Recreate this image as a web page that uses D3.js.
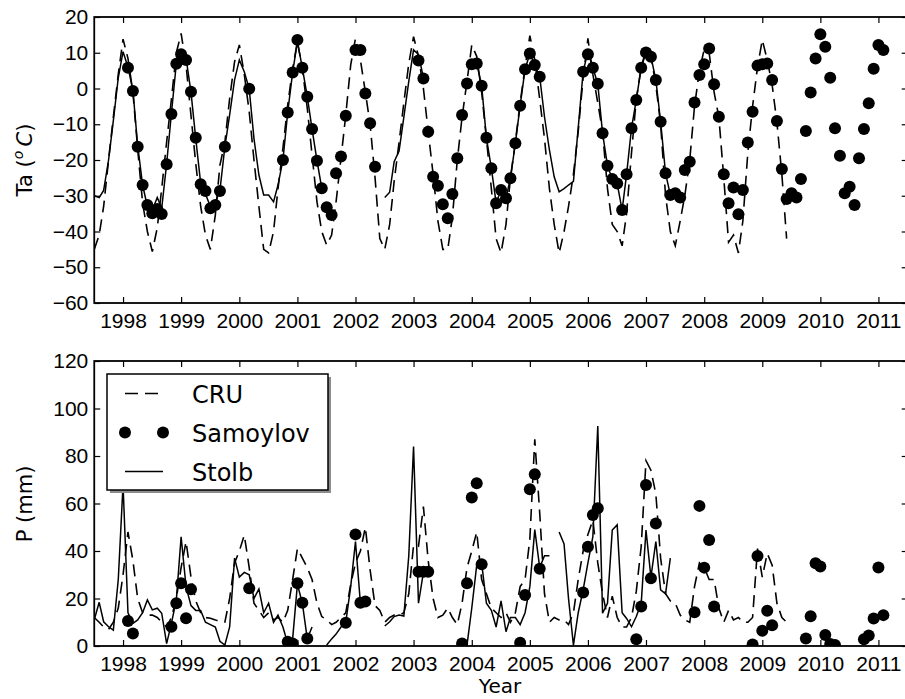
<!DOCTYPE html>
<html>
<head>
<meta charset="utf-8">
<script src="https://cdn.jsdelivr.net/npm/d3@7"></script>
<style>
  body { margin: 0; background: #fff; }
  svg { display: block; font-family: 'DejaVu Sans', sans-serif; }
  .axis text { font-size: 21px; fill: #000; }
  .axis line { stroke: #000; stroke-width: 1.2; }
</style>
</head>
<body>
<div id="chart"></div>
<script>
// monthly values, one row per year starting Jan 1998, null = no data
const years = d3.range(1998, 2012);
const taTicks = [-60, -50, -40, -30, -20, -10, 0, 10, 20];
const pTicks = [0, 20, 40, 60, 80, 100, 120];
const seriesNames = ['CRU', 'Samoylov', 'Stolb'];
const _ = null;

// air temperature (deg C)
const cruTa = [
  [-45, -41, -33, -20, -8, 4, 13.8, 8.4, -1, -17, -32, -40],
  [-45.6, -39, -28, -15, -3, 10, 15.4, 6.6, -7.5, -21, -33, -41],
  [-45, -35.4, -21.4, -15, -2.8, 7.5, 12.2, 4, -6.5, -20, -33, -45],
  [-46, -40, -28, -16.7, -4.6, 5.6, 13.1, 5.6, -5.5, -18.6, -31.7, -40],
  [-43.8, -41, -31.7, -19.5, -7.4, 6.6, 14, 8, -1, -10, -25, -42],
  [-45, -38, -26, -15, -4, 7, 14.5, 9, 0, -12, -24, -37],
  [-45, -45, -36, -20, -8, 2, 12.2, 9, -1, -14, -28, -42],
  [-46, -38, -25, -15, -4, 6, 14.8, 8, -3, -14, -28, -38],
  [-46, -40, -33, -24, -12, 3, 14, 4, -4, -12, -28, -38],
  [-40, -44, -35, -18, -3, 6, 10.8, 9, 1, -10, -30, -40],
  [-44, -37, -30, -20, -5, 5, 11, 10, -1, -8, -25, -43],
  [-41, -46, -37, -18, -5, 6, 13.6, 8, 1, -9.5, -24, -42]
];
const samTa = [
  [_, _, _, _, _, _, _, 5.8, -0.7, -16.3, -27, -32.6],
  [-34.9, -33.7, -35.1, -21.2, -7.1, 6.9, 9.6, 8, -0.9, -13.8, -26.8, -28.7],
  [-33.5, -32.6, -28.7, -16.3, _, _, _, _, -0.1, _, _, _],
  [_, _, _, -20, -6.7, 4.5, 13.6, 5.8, -2.3, -11.3, -20.2, -27.9],
  [-33.2, -35.4, -23.7, -19, -7.6, _, 10.8, 10.8, -1.4, -9.7, -21.9, _],
  [_, _, _, _, _, _, _, 7.8, 2.8, -12.1, -24.7, -27.2],
  [-32.4, -36.3, -29.5, -19.5, -7.4, 1.4, 6.8, 7, 0.8, -13.8, -22.3, -32.1],
  [-28.4, -30.7, -25.1, -15.3, -4.8, 5.4, 9.8, 6.6, 3.3, _, _, _],
  [_, _, _, _, _, 4.7, 9.6, 5.8, 1.3, -12.5, -21.6, -25.3],
  [-26.6, -34, -24, -11.1, -3.2, 5.8, 10.1, 8.9, 2.4, -9.3, -23.7, -29.8],
  [-29.3, -30.5, -22.8, -20.5, -3.9, 3.8, 6.8, 11.2, 1.2, -7.9, -24, -32.1],
  [-27.7, -35.2, -28.4, -15.1, -6.5, 6.4, 6.8, 7, 2.4, -9.1, -22.5, -30.9],
  [-29.3, -30.5, -25.3, -11.9, -1.1, 8.4, 15.2, 11.7, 3, -11.1, -18.8, -29.3],
  [-27.5, -32.6, -19.5, -11.3, -4.1, 5.5, 12.2, 10.8, _, _, _, _]
];
const stolbTa = [
  [-30, -30.5, -28.5, -20, -9, 3, 10.3, 6, -0.5, -16, -27, -33],
  [-34, -30.5, -33.5, -21, -7, 7, 10.5, 8.5, -1, -14, -26.5, -29.5],
  [-33, -32, -28.5, -16.3, -7.4, 2.4, 8, 4.7, -0.1, -14, -24.2, -29.8],
  [-29.8, -31.7, -27, -20, -6.7, 4.5, 13.1, 5.8, -2.3, -11.3, -20.2, -27.9],
  [_, _, _, _, _, _, _, _, _, _, _, _],
  [-30.5, -29, -20.5, -17.5, -8, 2, 10.8, 9.5, 3, _, _, _],
  [_, _, _, _, _, _, 6.8, 7, 0.8, -13.8, -22.3, -32],
  [-28.4, -30.7, -25.1, -15.3, -4.8, 5.4, 9.8, 6.6, 3.3, -7.9, -17.2, -24.7],
  [-28.9, -28, -27, -26, -11, 4.7, 10.3, 5.8, 1.3, -12.5, -21.6, -25.3],
  [-26.6, -34, -24, -11.1, -3.2, 5.8, 10.1, 8.9, 2.4, -9.3, -23.7, -29.8],
  [-29.3, -30.5, _, _, _, _, _, _, _, _, _, _]
];

// precipitation (mm)
const cruP = [
  [12, 10, 8, 7, 10, 16, 30, 48, 36, 20, 14, 13],
  [13, 12, 10, 8, 12, 20, 33, 44, 29, 19, 14, 12],
  [11.7, 11, 10.2, 10, 20, 35, 40, 46.7, 33, 18, 15, 12],
  [14, 11, 12, 10, 15, 28, 41, 37, 33, 28, 18, 12.4],
  [11, 9, 10, 12, 14, 26, 35, 40, 50, 32, 17, 15],
  [10, 12, 13, 13, 14, 22, 42.5, 42, 58.7, 36, 20, 12],
  [13, 16, 12, 9, 18, 33, 40, 48, 28, 22, 16, 14],
  [12, 14, 10, 14, 25, 28, 45, 87, 56, 22, 10, 12],
  [11, 11, 9, 14, 28, 40, 47, 53, 35, 22, 12, 21],
  [12, 8, 8, 12, 23, 42, 78, 74, 64, 37, 22, 19],
  [18, 13, 11, 10, 25, 35, 33, 28, 28, 16, 10, 15],
  [11, 12, 10, 10, 12, 41, 29, 39, 34, 18, 12, 10]
];
const samP = [
  [_, _, _, _, _, _, _, 10.5, 5.3, _, _, _],
  [_, _, _, _, 8.1, 18, 26.4, 11.7, 23.9, _, _, _],
  [_, _, _, _, _, _, _, _, 24.3, _, _, _],
  [_, _, _, _, 1.8, 1.1, 26.4, 18.2, 3.2, _, _, _],
  [_, _, _, _, 9.8, _, 47, 18.2, 18.7, _, _, _],
  [_, _, _, _, _, _, _, 31.3, 31.3, 31.3, _, _],
  [_, _, _, _, 1.1, 26.4, 62.5, 68.5, 34.4, _, _, _],
  [_, _, _, _, 1.4, 21.5, 66, 72.3, 32.5, _, _, _],
  [_, _, _, _, _, 22.5, 41.8, 55.2, 58, _, _, _],
  [_, _, _, _, 2.8, 16.6, 67.8, 28.5, 51.6, _, _, _],
  [_, _, _, _, 14.2, 59, 33, 44.6, 16.6, _, _, _],
  [_, _, _, _, 0.6, 37.9, 6.4, 14.8, 8.7, _, _, _],
  [_, _, _, 3.2, 12.5, 34.8, 33.5, 4.6, 0.8, 0.4, _, _],
  [_, _, _, 2.8, 4.4, 11.6, 33.1, 13, _, _, _, _]
];
const stolbP = [
  [11, 18.4, 10.2, 8.1, 6.7, 28, 68, 14, 9.5, 11, 14, 19.4],
  [15.2, 15.9, 13.8, 1, 9.5, 19.4, 46, 25, 17, 15, 15, 10],
  [9, 8, 2, 0.4, 8, 37, 29, 31, 30, 20, 24, 14],
  [18, 10, 13, 8, 1, 3, 26, 18, 3, 8, _, _],
  [0.4, 3, 5, 8, 10, 25, 44, 18, _, _, _, _],
  [8.4, 10.2, 12.4, 13, 12.6, 38, 84, 18, 31, _, _, _],
  [_, _, _, _, _, 0.4, 16, 34, 35, 18, 15, 8],
  [19, 6, 12, 12, 9, 14, 25, 49, 33, 38, 38, _],
  [48, 43, 20, 0.4, 14, 23.6, 35, 46, 92.6, 13.8, 18, 48.8],
  [51, 14, 11.6, 8.1, 12.4, 18, 48.8, 29, 44, 23.6, 22, 37]
];

const monthly = rows => rows.flat().map((v, i) => ({date: new Date(1998, i, 1), v}));

const width = 905;
const height = 699;
const left = 94.25;
const right = 907.7;

const svg = d3.select('#chart')
  .append('svg')
  .attr('width', width)
  .attr('height', height);

const x = d3.scaleTime()
  .domain([new Date(1998, 0, 1), new Date(2012, 0, 1)])
  .range([left, right]);
const tickDates = years.map(yr => new Date(yr, 6, 1));

const panel = (id, top, bottom, domain, ticks, cru, sam, stolb) => {
  const y = d3.scaleLinear().domain(domain).range([bottom, top]);
  const g = svg.append('g');

  g.append('clipPath')
    .attr('id', id)
    .append('rect')
    .attr('x', left).attr('y', top)
    .attr('width', right - left).attr('height', bottom - top);

  const plot = g.append('g').attr('clip-path', `url(#${id})`);
  const line = d3.line()
    .defined(d => d.v !== null)
    .x(d => x(d.date))
    .y(d => y(d.v));

  plot.append('path')
    .datum(monthly(cru))
    .attr('d', line)
    .attr('fill', 'none')
    .attr('stroke', '#000')
    .attr('stroke-width', 1.6)
    .attr('stroke-dasharray', '12,7');
  plot.append('path')
    .datum(monthly(stolb))
    .attr('d', line)
    .attr('fill', 'none')
    .attr('stroke', '#000')
    .attr('stroke-width', 1.5);
  plot.selectAll('circle')
    .data(monthly(sam).filter(d => d.v !== null))
    .join('circle')
    .attr('cx', d => x(d.date))
    .attr('cy', d => y(d.v))
    .attr('r', 6)
    .attr('fill', '#000');

  // inward ticks on all four sides
  g.append('g')
    .attr('class', 'axis')
    .attr('transform', `translate(0, ${bottom})`)
    .call(d3.axisBottom(x).tickValues(tickDates).tickFormat(d3.timeFormat('%Y'))
      .tickSizeInner(-6).tickSizeOuter(0).tickPadding(10))
    .call(a => a.select('.domain').remove());
  g.append('g')
    .attr('class', 'axis')
    .attr('transform', `translate(0, ${top})`)
    .call(d3.axisTop(x).tickValues(tickDates).tickFormat('').tickSizeInner(-6).tickSizeOuter(0))
    .call(a => a.select('.domain').remove());
  g.append('g')
    .attr('class', 'axis')
    .attr('transform', `translate(${left}, 0)`)
    .call(d3.axisLeft(y).tickValues(ticks).tickSizeInner(-6).tickSizeOuter(0).tickPadding(6))
    .call(a => a.select('.domain').remove());
  g.append('g')
    .attr('class', 'axis')
    .attr('transform', `translate(${right}, 0)`)
    .call(d3.axisRight(y).tickValues(ticks).tickFormat('').tickSizeInner(-6).tickSizeOuter(0))
    .call(a => a.select('.domain').remove());

  g.append('rect')
    .attr('x', left).attr('y', top)
    .attr('width', right - left).attr('height', bottom - top)
    .attr('fill', 'none')
    .attr('stroke', '#000')
    .attr('stroke-width', 1.8);
  return g;
};

panel('clip-ta', 17, 303, [-60, 20], taTicks, cruTa, samTa, stolbTa);
const bottomPanel = panel('clip-p', 361, 646, [0, 120], pTicks, cruP, samP, stolbP);

// axis labels
const taLabel = svg.append('text')
  .attr('transform', 'translate(32, 160) rotate(-90)')
  .attr('text-anchor', 'middle')
  .attr('font-size', 21);
taLabel.append('tspan').text('Ta (');
taLabel.append('tspan').attr('font-size', 14).attr('font-style', 'italic').attr('dy', -9).text('o');
taLabel.append('tspan').attr('dy', 9).text('\u2009');
taLabel.append('tspan').attr('font-style', 'italic').text('C');
taLabel.append('tspan').text(')');

svg.append('text')
  .attr('transform', 'translate(32, 504) rotate(-90)')
  .attr('text-anchor', 'middle')
  .attr('font-size', 21)
  .text('P (mm)');

svg.append('text')
  .attr('x', 500)
  .attr('y', 693)
  .attr('text-anchor', 'middle')
  .attr('font-size', 20)
  .text('Year');

// legend
const legend = bottomPanel.append('g');
legend.append('rect')
  .attr('x', 110).attr('y', 377)
  .attr('width', 221).attr('height', 116)
  .attr('fill', '#8c8c8c');
legend.append('rect')
  .attr('x', 107).attr('y', 374)
  .attr('width', 221).attr('height', 116)
  .attr('fill', '#fff')
  .attr('stroke', '#000')
  .attr('stroke-width', 1.5);

const rowY = [393.5, 432.5, 471.5];
legend.append('line')
  .attr('x1', 125).attr('x2', 163)
  .attr('y1', rowY[0]).attr('y2', rowY[0])
  .attr('stroke', '#000').attr('stroke-width', 1.6)
  .attr('stroke-dasharray', '13,7');
legend.selectAll('circle')
  .data([125, 163])
  .join('circle')
  .attr('cx', d => d)
  .attr('cy', rowY[1])
  .attr('r', 6)
  .attr('fill', '#000');
legend.append('line')
  .attr('x1', 125).attr('x2', 163)
  .attr('y1', rowY[2]).attr('y2', rowY[2])
  .attr('stroke', '#000').attr('stroke-width', 1.5);
legend.selectAll('text')
  .data(seriesNames)
  .join('text')
  .attr('x', 192)
  .attr('y', (d, i) => rowY[i] + 9)
  .attr('font-size', 24)
  .text(d => d);
</script>
</body>
</html>
